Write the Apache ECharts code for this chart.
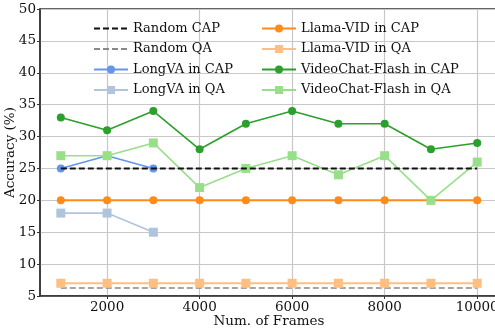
<!DOCTYPE html>
<html>
<head>
<meta charset="utf-8">
<script src="https://cdn.jsdelivr.net/npm/echarts@6/dist/echarts.min.js"></script>
<style>
  html, body { margin: 0; padding: 0; background: #fff; }
  #chart { width: 495px; height: 328px; }
</style>
</head>
<body>
<div id="chart"></div>
<script>
// frames (x values)
var frames = [1000, 2000, 3000, 4000, 5000, 6000, 7000, 8000, 9000, 10000];
var xTicks = [2000, 4000, 6000, 8000, 10000];

var randomCap = 25;
var randomQa = 6.25;
var longvaCap = [25, 27, 25];
var longvaQa = [18, 18, 15];
var llamaCap = [20, 20, 20, 20, 20, 20, 20, 20, 20, 20];
var llamaQa = [7, 7, 7, 7, 7, 7, 7, 7, 7, 7];
var flashCap = [33, 31, 34, 28, 32, 34, 32, 32, 28, 29];
var flashQa = [27, 27, 29, 22, 25, 27, 24, 27, 20, 26];

function pairs(vals) {
    var out = [];
    for (var i = 0; i < vals.length; i++) {
        out.push([frames[i], vals[i]]);
    }
    return out;
}

var font = 'DejaVu Serif';
var myChart = echarts.init(document.getElementById('chart'));

function lineSeries(name, vals, color, symbol, size, width) {
    return {
        name: name,
        type: 'line',
        symbol: symbol,
        symbolSize: size,
        lineStyle: { color: color, width: width },
        itemStyle: { color: color },
        data: pairs(vals),
        z: 3
    };
}

var legendText = { fontFamily: font, fontSize: 13, color: '#111' };
var hideSym = { opacity: 0 };

var option = {
    animation: false,
    textStyle: { fontFamily: font },
    grid: {
        left: 40, top: 9, right: -3, bottom: 32,
        outerBoundsMode: 'none',
        containLabel: false,
        show: true, borderColor: '#333', borderWidth: 1.5,
        backgroundColor: 'transparent'
    },
    legend: [{
        left: 88, top: 17, orient: 'vertical',
        itemWidth: 34, itemHeight: 10, itemGap: 7.5,
        textStyle: legendText,
        data: [
            { name: 'Random CAP', itemStyle: hideSym },
            { name: 'Random QA', itemStyle: hideSym },
            'LongVA in CAP', 'LongVA in QA'
        ]
    }, {
        left: 256, top: 17, orient: 'vertical',
        itemWidth: 34, itemHeight: 10, itemGap: 7.5,
        textStyle: legendText,
        data: ['Llama-VID in CAP', 'Llama-VID in QA', 'VideoChat-Flash in CAP', 'VideoChat-Flash in QA']
    }],
    xAxis: {
        type: 'value',
        min: 550, max: 10450,
        name: 'Num. of Frames',
        nameLocation: 'middle',
        nameGap: 18,
        nameMoveOverlap: false,
        nameTextStyle: { fontFamily: font, fontSize: 13.5, color: '#111', verticalAlign: 'top' },
        axisLine: { show: true, onZero: false, lineStyle: { color: '#333', width: 1.5 } },
        axisTick: { show: true, customValues: xTicks, length: 3, lineStyle: { color: '#333' } },
        axisLabel: {
            customValues: xTicks, fontFamily: font, fontSize: 13.5, color: '#111', margin: 4,
            formatter: function (v) { return String(v); }
        },
        splitLine: { show: true, lineStyle: { color: '#c8c8c8', width: 1.2 } }
    },
    yAxis: {
        type: 'value',
        min: 5, max: 50, interval: 5,
        name: 'Accuracy (%)',
        nameLocation: 'middle',
        nameGap: 23,
        nameMoveOverlap: false,
        nameTextStyle: { fontFamily: font, fontSize: 13.5, color: '#111' },
        axisLine: { show: true, lineStyle: { color: '#333', width: 1.5 } },
        axisTick: { show: true, length: 3, lineStyle: { color: '#333' } },
        axisLabel: { fontFamily: font, fontSize: 13.5, color: '#111', margin: 4 },
        splitLine: { show: true, lineStyle: { color: '#c8c8c8', width: 1.2 } }
    },
    series: [
        {
            name: 'Random CAP', type: 'line', symbol: 'none',
            lineStyle: { color: '#111', width: 2, type: [6, 3] },
            itemStyle: { color: '#111' },
            data: [[frames[0], randomCap], [frames[frames.length - 1], randomCap]],
            z: 4
        },
        {
            name: 'Random QA', type: 'line', symbol: 'none',
            lineStyle: { color: '#888', width: 1.6, type: [6, 3] },
            itemStyle: { color: '#888' },
            data: [[frames[0], randomQa], [frames[frames.length - 1], randomQa]]
        },
        lineSeries('LongVA in CAP', longvaCap, '#6495ed', 'circle', 8, 1.6),
        lineSeries('LongVA in QA', longvaQa, '#b0c4de', 'rect', 9, 1.6),
        lineSeries('Llama-VID in CAP', llamaCap, '#ff8c1a', 'circle', 8, 2),
        lineSeries('Llama-VID in QA', llamaQa, '#ffbf80', 'rect', 9, 2),
        lineSeries('VideoChat-Flash in CAP', flashCap, '#2ca02c', 'circle', 8, 1.6),
        lineSeries('VideoChat-Flash in QA', flashQa, '#98df8a', 'rect', 9, 1.6)
    ]
};
myChart.setOption(option);
</script>
</body>
</html>
